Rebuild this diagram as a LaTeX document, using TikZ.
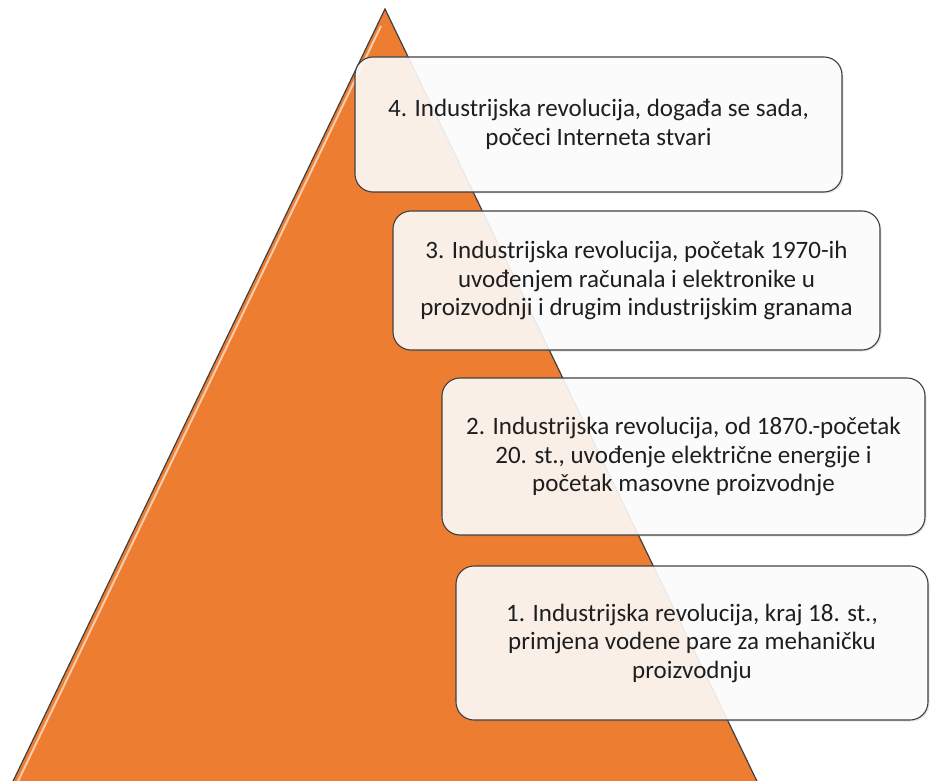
\documentclass[tikz,border=0pt]{standalone}
\usepackage{fontspec}
\setmainfont{Carlito}
\usepackage{xcolor}
\usetikzlibrary{positioning,shadows}

\definecolor{pyramidorange}{HTML}{ED7D31}
\definecolor{edgegray}{HTML}{404040}
\definecolor{textgray}{HTML}{1E1E1E}

\begin{document}
\begin{tikzpicture}[x=1pt, y=-1pt,
    level/.style={draw=edgegray, line width=1.1pt, rounded corners=18pt, fill=white,
        fill opacity=0.88, text opacity=1, text=textgray, align=center, inner sep=0pt,
        font=\fontsize{25}{28.5}\selectfont,
        drop shadow={opacity=0.2, shadow xshift=1.5pt, shadow yshift=-1.5pt}},
]
    \useasboundingbox (0,0) rectangle (930,781);

    % Pyramid
    \begin{scope}
        \clip (0,0) rectangle (930,781);
        \draw [fill=pyramidorange, draw=edgegray, line width=1.2pt] (385,9) -- (766,800) -- (4,800) -- cycle;
        \draw [white, line width=2pt, opacity=0.6] (381,26) -- (9,800);
    \end{scope}

    % Stages
    \node [level, minimum width=487, minimum height=135] (level4) at (598.5,124.5)
        {4. Industrijska revolucija, događa se sada,\\počeci Interneta stvari};
    \node [level, minimum width=487, minimum height=139] (level3) at (636.5,280.5)
        {3. Industrijska revolucija, početak 1970-ih\\uvođenjem računala i elektronike u\\proizvodnji i drugim industrijskim granama};
    \node [level, minimum width=483, minimum height=157] (level2) at (683.5,456.5)
        {2. Industrijska revolucija, od 1870.-početak\\20. st., uvođenje električne energije i\\početak masovne proizvodnje};
    \node [level, minimum width=472, minimum height=154] (level1) at (692,643)
        {1. Industrijska revolucija, kraj 18. st.,\\primjena vodene pare za mehaničku\\proizvodnju};
\end{tikzpicture}
\end{document}
